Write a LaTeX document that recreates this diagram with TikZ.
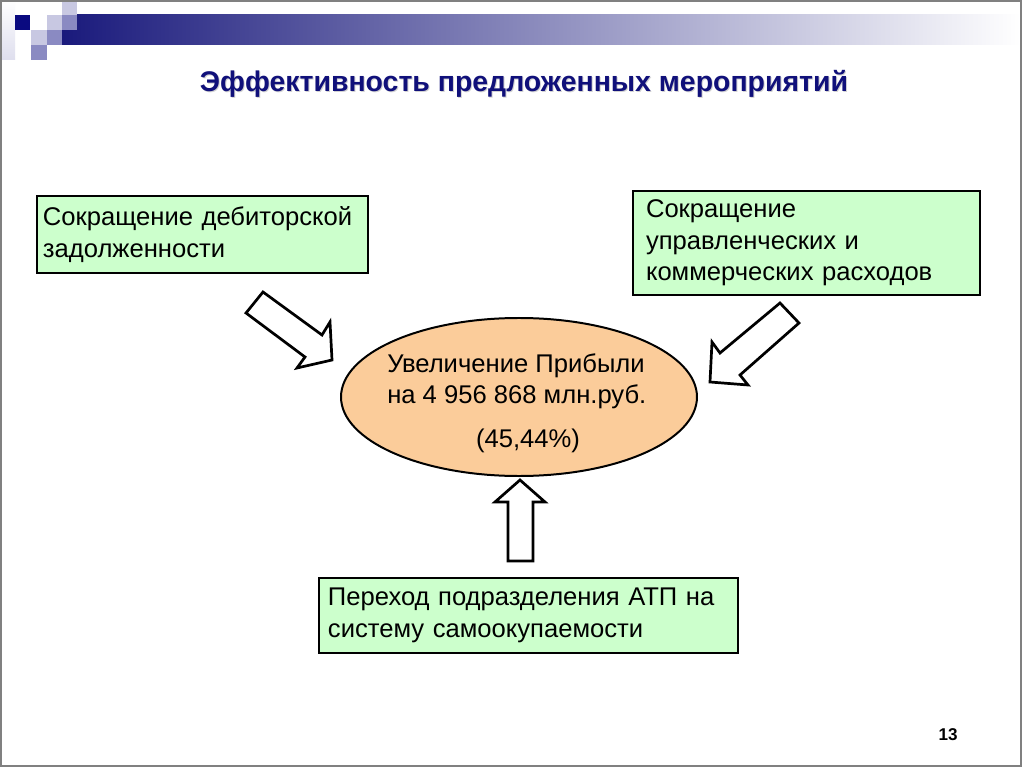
\documentclass[tikz,border=0pt]{standalone}
\usepackage{fontspec}
\setmainfont{Liberation Sans}
\usetikzlibrary{shapes.geometric}
\definecolor{navy}{HTML}{0A0A80}
\definecolor{barnavy}{HTML}{1A1A7C}
\definecolor{lav}{HTML}{C8C8E2}
\definecolor{lavmid}{HTML}{8A8AC2}
\definecolor{boxgreen}{HTML}{CCFFCC}
\definecolor{peach}{HTML}{FBCC9A}
\definecolor{titleblue}{HTML}{10107A}
\tikzset{
  greenbox/.style={draw=black, line width=1.4pt, fill=boxgreen, anchor=north west,
    align=left, inner xsep=4.2pt, font=\fontsize{18}{22}\selectfont},
  blockarrow/.style={draw=black, line width=1.9pt, fill=white, line join=miter},
  txt/.style={font=\fontsize{18}{22}\selectfont, inner sep=0pt},
}
\begin{document}
\begin{tikzpicture}[x=0.703125pt, y=-0.703125pt]
\useasboundingbox (0,0) rectangle (1024,768);
\fill[white] (0,0) rectangle (1024,768);
% header decoration
\shade[top color=white, bottom color=lav!60] (0,0) rectangle (15,60);
\shade[left color=barnavy, right color=white] (62,15) rectangle (1021,45);
\fill[navy] (15,15) rectangle (30,30);
\fill[lav] (47,15) rectangle (62,30);
\fill[lav] (62,0) rectangle (77,15);
\fill[lavmid] (62,15) rectangle (77,30);
\fill[lav] (31,30) rectangle (47,45);
\fill[lavmid] (47,30) rectangle (62,45);
\fill[lavmid] (31,45) rectangle (47,60);
% slide border
\draw[gray, line width=1.2pt] (1,1) rectangle (1021,766);
% title
\node[font=\fontsize{20}{24}\selectfont\bfseries, text=gray!35, inner sep=0pt] at (525,85) {Эффективность предложенных мероприятий};
\node[font=\fontsize{20}{24}\selectfont\bfseries, text=titleblue, inner sep=0pt] (title) at (524,84) {Эффективность предложенных мероприятий};
% boxes
\node[greenbox, minimum width=232.7pt, minimum height=54.1pt, text width=224.3pt] (left) at (36,195)
  {Сокращение дебиторской\\задолженности};
\node[greenbox, minimum width=244pt, minimum height=73.1pt, inner xsep=9.1pt, text width=225.7pt] (right) at (632,190)
  {Сокращение\\управленческих и\\коммерческих расходов};
\node[greenbox, minimum width=294.6pt, minimum height=52.7pt, inner xsep=6.3pt, text width=282pt] (bottom) at (318,577)
  {Переход подразделения АТП на\\систему самоокупаемости};
% ellipse
\node[ellipse, draw=black, line width=1.4pt, fill=peach, minimum width=250.3pt, minimum height=111.1pt, inner sep=0pt] (profit) at (519,397) {};
\node[txt, anchor=west, align=left] (p1) at (387,381) {Увеличение Прибыли\\на 4 956 868 млн.руб.};
\node[txt] (p2) at (528,441) {(45,44\%)};
% block arrows
\draw[blockarrow] (246,313) -- (263,292) -- (322,335) -- (330,322) -- (332,360) -- (297,368) -- (305,357) -- cycle;
\draw[blockarrow] (780,303) -- (799,323) -- (740,375) -- (748,385) -- (710,382) -- (712,342) -- (720,353) -- cycle;
\draw[blockarrow] (520,480) -- (545,502) -- (533,502) -- (533,561) -- (508,561) -- (508,502) -- (495,502) -- cycle;
% page number
\node[font=\fontsize{12}{14}\selectfont\bfseries, inner sep=0pt] (pg) at (948,735) {13};
\end{tikzpicture}
\end{document}
